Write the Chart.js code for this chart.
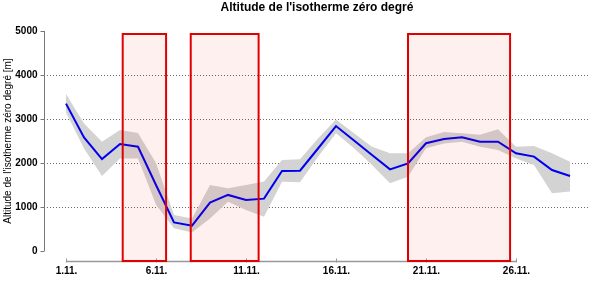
<!DOCTYPE html>
<html lang="fr">
<head>
<meta charset="UTF-8">
<title>Altitude de l'isotherme zéro degré</title>
<script src="https://cdn.jsdelivr.net/npm/chart.js"></script>
<style>
    html, body { margin: 0; padding: 0; background: #fff; }
    #wrap { width: 600px; height: 300px; position: relative; }
</style>
</head>
<body>
<div id="wrap"><canvas id="iso"></canvas></div>
<script>
    // jours de novembre
    const jours = [1, 2, 3, 4, 5, 6, 7, 8, 9, 10, 11, 12, 13, 14, 15, 16, 17, 18, 19, 20, 21, 22, 23, 24, 25, 26, 27, 28, 29];
    // altitude moyenne [m]
    const altitude = [3350, 2580, 2090, 2430, 2370, 1500, 650, 575, 1100, 1275, 1160, 1190, 1820, 1825, 2330, 2840, 2510, 2180, 1855, 1990, 2450, 2545, 2585, 2485, 2485, 2220, 2145, 1840, 1705];
    // enveloppe haute / basse
    const altHaut = [3570, 2900, 2485, 2750, 2680, 2000, 820, 740, 1500, 1425, 1500, 1580, 2070, 2085, 2560, 2990, 2675, 2370, 2220, 2220, 2585, 2705, 2675, 2640, 2765, 2370, 2385, 2220, 2030];
    const altBas = [3150, 2330, 1705, 2105, 2105, 1050, 515, 420, 740, 1120, 930, 780, 1575, 1560, 2145, 2675, 2335, 1955, 1540, 1690, 2335, 2445, 2485, 2370, 2295, 2105, 1955, 1310, 1350];
    // périodes encadrées (début, fin)
    const periodes = [[4.15, 6.56], [7.93, 11.7], [20.0, 25.67]];
    const ticksX = [1, 6, 11, 16, 21, 26];
    const ticksY = [0, 1000, 2000, 3000, 4000, 5000];
    const etiquettesX = ticksX.map(d => d + '.11.');

    const pts = arr => jours.map((d, i) => ({ x: d, y: arr[i] }));

    const decor = {
        id: 'decor',
        beforeDatasetsDraw(chart) {
            const { ctx, chartArea: a, scales: { x, y } } = chart;
            ctx.save();
            // lignes horizontales pointillées
            ctx.strokeStyle = '#6a6a6a';
            ctx.lineWidth = 1;
            ctx.setLineDash([1, 2]);
            [1000, 2000, 3000, 4000].forEach(v => {
                const py = Math.round(y.getPixelForValue(v)) + 0.5;
                ctx.beginPath();
                ctx.moveTo(a.left, py);
                ctx.lineTo(a.right, py);
                ctx.stroke();
            });
            ctx.setLineDash([]);

            // axe Y
            ctx.strokeStyle = '#777';
            const ax = a.left + 0.5;
            ctx.beginPath();
            ctx.moveTo(ax, y.getPixelForValue(0));
            ctx.lineTo(ax, y.getPixelForValue(5000));
            ctx.stroke();
            ctx.fillStyle = '#000';
            ctx.font = 'bold 10px "Liberation Sans", Arial, sans-serif';
            ctx.textAlign = 'right';
            ctx.textBaseline = 'middle';
            ticksY.forEach(v => {
                const py = Math.round(y.getPixelForValue(v)) + 0.5;
                ctx.beginPath();
                ctx.moveTo(ax - 4, py);
                ctx.lineTo(ax, py);
                ctx.stroke();
                ctx.fillText(String(v), ax - 7, py);
            });

            // axe X
            const ay = a.bottom + 0.5;
            ctx.strokeStyle = '#999';
            ctx.lineWidth = 1.5;
            ctx.beginPath();
            ctx.moveTo(x.getPixelForValue(ticksX[0]), ay);
            ctx.lineTo(x.getPixelForValue(ticksX[ticksX.length - 1]), ay);
            ctx.stroke();
            ctx.lineWidth = 1;
            ctx.textAlign = 'center';
            ticksX.forEach((d, i) => {
                const px = Math.round(x.getPixelForValue(d)) + 0.5;
                ctx.beginPath();
                ctx.moveTo(px, ay - 3);
                ctx.lineTo(px, ay + 1);
                ctx.stroke();
                ctx.fillText(etiquettesX[i], px, ay + 10);
            });

            // titres
            ctx.font = 'bold 12px "Liberation Sans", Arial, sans-serif';
            ctx.fillText("Altitude de l'isotherme zéro degré", (a.left + a.right) / 2, 8);
            ctx.font = '10px "Liberation Sans", Arial, sans-serif';
            ctx.translate(8, (y.getPixelForValue(0) + y.getPixelForValue(5000)) / 2);
            ctx.rotate(-Math.PI / 2);
            ctx.fillText("Altitude de l'isotherme zéro degré [m]", 0, 0);
            ctx.restore();
        },
        afterDatasetsDraw(chart) {
            const { ctx, scales: { x, y } } = chart;
            ctx.save();
            ctx.fillStyle = 'rgba(255, 0, 0, 0.06)';
            ctx.strokeStyle = '#e00000';
            ctx.lineWidth = 2;
            periodes.forEach(([d0, d1]) => {
                const x0 = x.getPixelForValue(d0), x1 = x.getPixelForValue(d1);
                const y0 = y.getPixelForValue(4932), y1 = y.getPixelForValue(y.min);
                ctx.fillRect(x0, y0, x1 - x0, y1 - y0);
                ctx.strokeRect(x0, y0, x1 - x0, y1 - y0);
            });
            ctx.restore();
        }
    };

    new Chart(document.getElementById('iso'), {
        type: 'line',
        data: {
            datasets: [
                {
                    label: 'haut',
                    data: pts(altHaut),
                    borderWidth: 0,
                    pointRadius: 0,
                    backgroundColor: '#d3d3d3',
                    fill: '+1',
                    order: 2
                },
                {
                    label: 'bas',
                    data: pts(altBas),
                    borderWidth: 0,
                    pointRadius: 0,
                    fill: false,
                    order: 2
                },
                {
                    label: 'altitude',
                    data: pts(altitude),
                    borderColor: '#0000ee',
                    borderWidth: 2,
                    pointRadius: 0,
                    tension: 0,
                    fill: false,
                    order: 1
                }
            ]
        },
        options: {
            responsive: true,
            maintainAspectRatio: false,
            animation: false,
            layout: { padding: { left: 44, right: 10, top: 22, bottom: 39 } },
            scales: {
                x: { type: 'linear', display: false, min: -0.222, max: 30.11 },
                y: { display: false, min: -227, max: 5205 }
            },
            plugins: {
                legend: { display: false },
                tooltip: { enabled: false },
                title: { display: false }
            }
        },
        plugins: [decor]
    });
</script>
</body>
</html>
